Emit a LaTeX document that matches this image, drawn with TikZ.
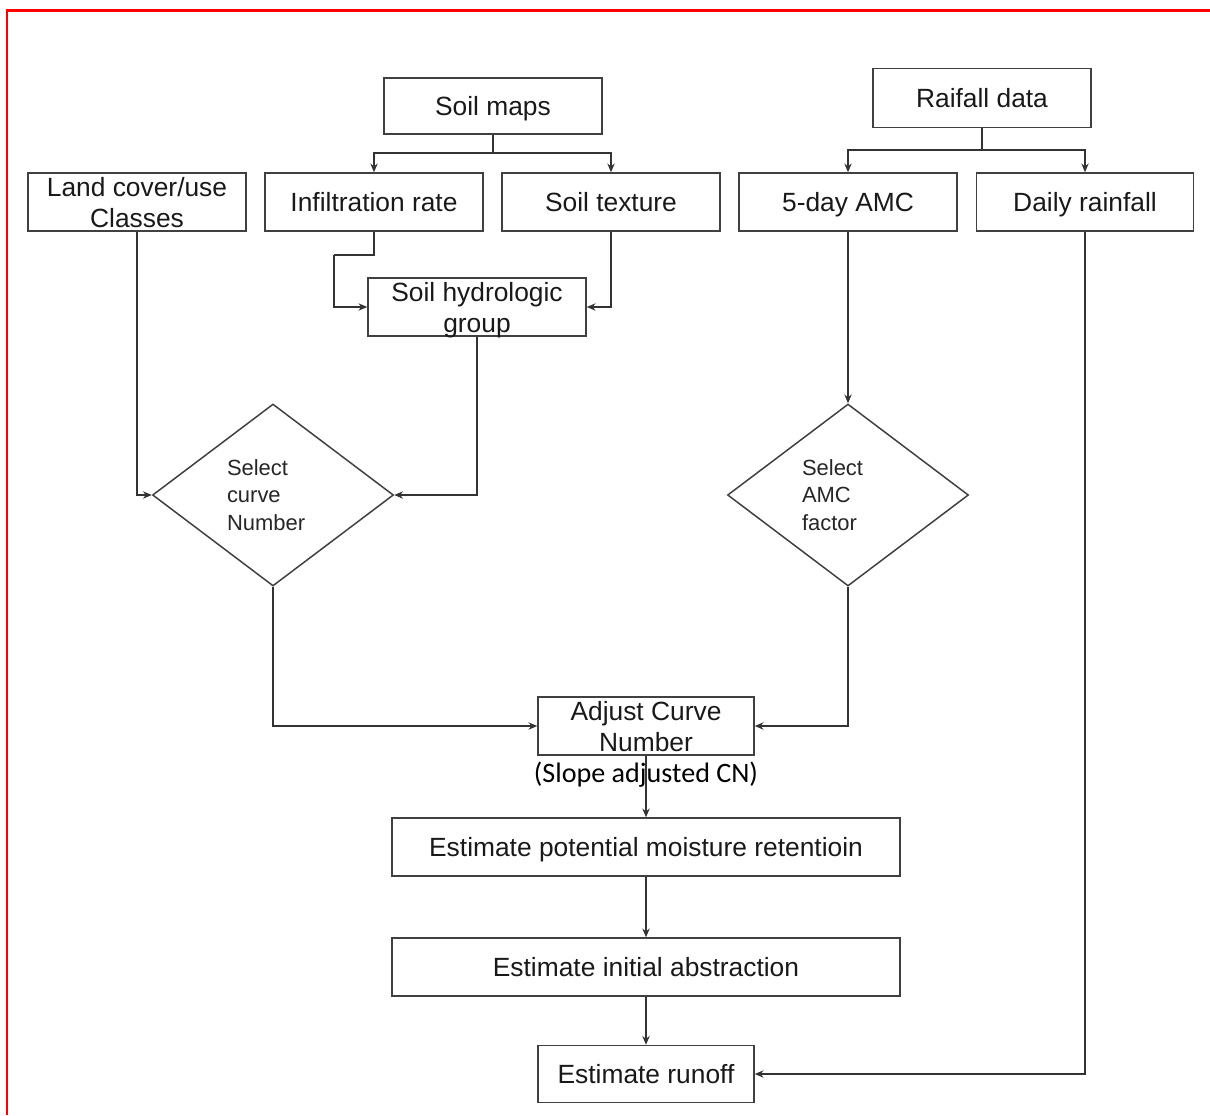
\documentclass[tikz,border=0pt]{standalone}
\usepackage{fontspec}
\setmainfont{Liberation Sans}
\newfontfamily\calibrifont{Carlito}
\usetikzlibrary{arrows.meta,shapes.geometric}

\begin{document}
\begin{tikzpicture}[x=1cm,y=-1cm,>={Stealth[length=5pt,width=4.2pt]},
 line width=0.8pt,
 link/.style={draw=black!80},
 box/.style={draw=black!75,line width=0.85pt,inner sep=0pt,minimum width=4.36cm,
  minimum height=1.16cm,align=center,text=black!90,text depth=0pt,
  font=\fontsize{15}{17.6}\selectfont},
 widebox/.style={box,minimum width=10.16cm},
 choice/.style={diamond,draw=black!75,line width=0.85pt,inner sep=0pt,
  minimum width=4.82cm,minimum height=3.64cm,text width=1.84cm,align=left,
  text=black!85,font=\fontsize{12.5}{15.6}\selectfont}]
 \useasboundingbox (0,0) rectangle (24.2,22.3);
 \draw[red,line width=1.7pt] (0.14,22.3)--(0.14,0.2)--(24.2,0.2);

 % sources
 \node[box,minimum height=1.12cm] (soil) at (9.86,2.12) {Soil maps};
 \node[box,minimum height=1.18cm] (rain) at (19.64,1.96) {Raifall data};
 \node[box] (land) at (2.74,4.04) {Land cover/use\\Classes};
 \node[box] (infil) at (7.48,4.04) {Infiltration rate};
 \node[box] (texture) at (12.22,4.04) {Soil texture};
 \node[box] (amc) at (16.96,4.04) {5-day AMC};
 \node[box,minimum width=4.34cm] (daily) at (21.7,4.04) {Daily rainfall};
 \node[box] (hydro) at (9.54,6.14) {Soil hydrologic\\group};

 % decisions
 \node[choice] (selcn) at (5.46,9.9) {Select\\curve\\Number};
 \node[choice] (selamc) at (16.96,9.9) {Select\\AMC\\factor};

 % estimation chain
 \node[box,minimum width=4.32cm] (adjust) at (12.92,14.52) {Adjust Curve\\Number};
 \node[font=\calibrifont\fontsize{16}{19}\selectfont,text=black] (slope) at (12.92,15.5) {(Slope adjusted CN)};
 \node[widebox] (pmr) at (12.92,16.94) {Estimate potential moisture retentioin};
 \node[widebox] (ia) at (12.92,19.34) {Estimate initial abstraction};
 \node[box,minimum width=4.32cm,minimum height=1.14cm] (runoff) at (12.92,21.48) {Estimate runoff};

 \coordinate (sj) at (9.86,3.06);
 \coordinate (rj) at (19.64,3.0);
 \coordinate (ib) at (7.48,5.1);
 \coordinate (ic) at (6.68,5.1);

 \draw[link] (soil) -- (sj);
 \draw[link,->] (sj) -| (infil);
 \draw[link,->] (sj) -| (texture);
 \draw[link] (rain) -- (rj);
 \draw[link,->] (rj) -| (amc);
 \draw[link,->] (rj) -| (daily);
 \draw[link] (infil) -- (ib) -- (ic);
 \draw[link,->] (ic) |- (hydro);
 \draw[link,->] (texture) |- (hydro);
 \draw[link,->] (land) |- (selcn);
 \draw[link,->] (hydro) |- (selcn);
 \draw[link,->] (amc) -- (selamc);
 \draw[link,->] (selcn) |- (adjust);
 \draw[link,->] (selamc) |- (adjust);
 \draw[link,->] (adjust) -- (pmr);
 \draw[link,->] (pmr) -- (ia);
 \draw[link,->] (ia) -- (runoff);
 \draw[link,->] (daily) |- (runoff);
\end{tikzpicture}
\end{document}
